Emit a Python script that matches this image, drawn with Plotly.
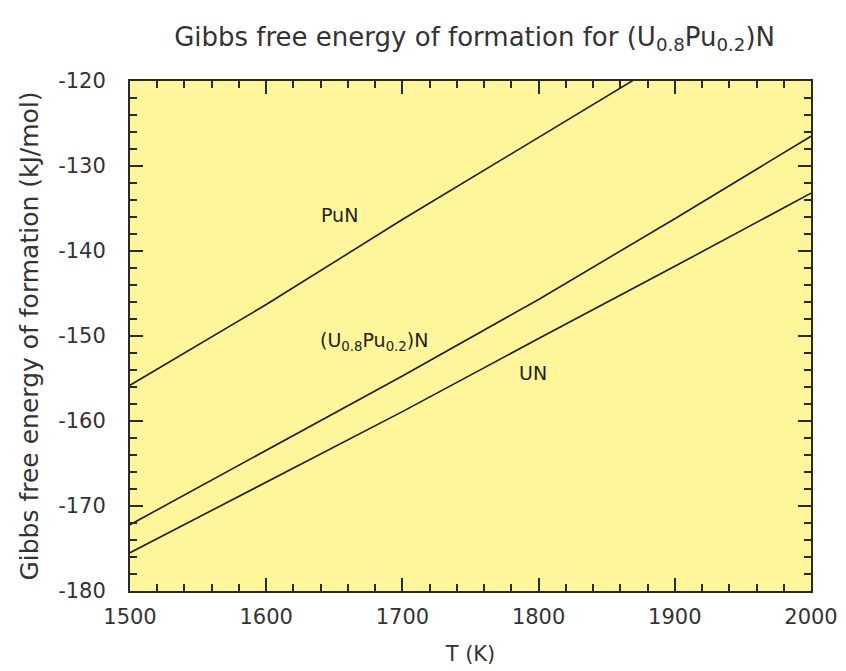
import plotly.graph_objects as go

# Temperature (K)
T = [1500, 1600, 1700, 1800, 1900, 2000]

# Gibbs free energy of formation (kJ/mol)
PuN = [-155.8, -146.3, -136.3, -126.6, -116.9, -107.3]
UPuN = [-172.2, -163.5, -154.7, -145.7, -136.2, -126.5]
UN = [-175.5, -167.2, -158.9, -150.3, -141.8, -133.2]

# Axis tick values and labels
x_ticks = [1500, 1600, 1700, 1800, 1900, 2000]
x_ticklabels = ["1500", "1600", "1700", "1800", "1900", "2000"]
y_ticks = [-180, -170, -160, -150, -140, -130, -120]
y_ticklabels = ["-180", "-170", "-160", "-150", "-140", "-130", "-120"]

# Curve labels: text, x, y
label_text = ["PuN", "(U<sub>0.8</sub>Pu<sub>0.2</sub>)N", "UN"]
label_x = [1654, 1679, 1796]
label_y = [-135.8, -150.6, -154.4]

line_color = "#1e1e14"
axis_color = "#2a2a1e"
text_color = "#333333"
font_family = "DejaVu Sans, Verdana, sans-serif"

fig = go.Figure()
for name, ys in [("PuN", PuN), ("(U0.8Pu0.2)N", UPuN), ("UN", UN)]:
    fig.add_trace(go.Scatter(x=T, y=ys, mode="lines", name=name,
                             line=dict(color=line_color, width=1.6),
                             showlegend=False))

for txt, lx, ly in zip(label_text, label_x, label_y):
    fig.add_annotation(x=lx, y=ly, xref="x", yref="y", text=txt, showarrow=False,
                       font=dict(family=font_family, size=19, color="#222222"))

axis_common = dict(
    showline=True, linecolor=axis_color, linewidth=2, mirror="allticks",
    ticks="inside", ticklen=13, tickwidth=2, tickcolor=axis_color,
    showgrid=False, zeroline=False, automargin=False,
    tickfont=dict(family=font_family, size=21, color=text_color),
)

fig.update_xaxes(range=[1500, 2000], tickmode="array", tickvals=x_ticks, ticktext=x_ticklabels,
                 minor=dict(dtick=20, tick0=1500, ticks="inside", ticklen=7, tickwidth=2, tickcolor=axis_color),
                 title=dict(text="T (K)", font=dict(family=font_family, size=21, color=text_color), standoff=18),
                 ticklabelstandoff=6,
                 **axis_common)
fig.update_yaxes(range=[-180, -120], tickmode="array", tickvals=y_ticks, ticktext=y_ticklabels,
                 minor=dict(dtick=2, tick0=-180, ticks="inside", ticklen=7, tickwidth=2, tickcolor=axis_color),
                 title=dict(text="Gibbs free energy of formation (kJ/mol)",
                            font=dict(family=font_family, size=25, color=text_color), standoff=12),
                 ticklabelstandoff=18,
                 **axis_common)

fig.update_layout(
    width=846, height=671,
    margin=dict(l=130, r=35, t=81, b=80),
    paper_bgcolor="white",
    plot_bgcolor="#fff69b",
    title=dict(text="Gibbs free energy of formation for (U<sub>0.8</sub>Pu<sub>0.2</sub>)N",
               font=dict(family=font_family, size=26, color=text_color),
               x=0.561, xanchor="center", y=0.945, yanchor="middle", yref="container"),
)

fig.write_html("out.html")
